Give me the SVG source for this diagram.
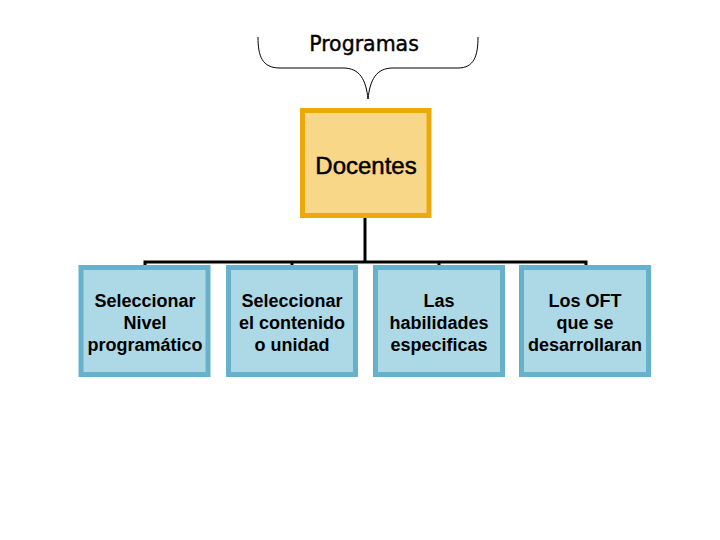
<svg xmlns="http://www.w3.org/2000/svg" width="720" height="540" viewBox="0 0 720 540">
<style>
.child rect{fill:#ADD8E6;stroke:#66B2CC;stroke-width:5}
.child text{font-family:"Liberation Sans",Arial,sans-serif;font-weight:bold;font-size:18px;fill:#000;text-anchor:middle}
.conn{stroke:#000;stroke-width:3;fill:none}
</style>
<rect width="720" height="540" fill="#fff"/>
<g id="programas">
<path d="M258,37 C258,56 262,68 280,68 L343,68 C360,68 366,80 368,99 C370,80 376,68 393,68 L458,68 C474,68 478,56 478,37" fill="none" stroke="#000" stroke-width="1"/>
<text x="364" y="51" font-family="'DejaVu Sans',Verdana,sans-serif" font-size="20.5" text-anchor="middle" fill="#000" stroke="#000" stroke-width="0.4">Programas</text>
</g>
<g id="connectors">
<path class="conn" d="M365,218 V262"/>
<path class="conn" d="M145,266 V262 H586 V266"/>
<path class="conn" d="M292,262 V266"/>
<path class="conn" d="M439,262 V266"/>
</g>
<g id="docentes">
<rect x="302.5" y="110.5" width="126.5" height="105" fill="#F8D888" stroke="#EBAA0A" stroke-width="5"/>
<text x="366" y="173.5" font-family="'Liberation Sans',Arial,sans-serif" font-size="24" text-anchor="middle" fill="#000" stroke="#000" stroke-width="0.5">Docentes</text>
</g>
<g id="n1" class="child">
<rect x="81" y="267.5" width="127" height="107"/>
<text x="145" y="306.5">Seleccionar</text>
<text x="145" y="328.5">Nivel</text>
<text x="145" y="350.5">programático</text>
</g>
<g id="n2" class="child">
<rect x="228.5" y="267.5" width="127" height="107"/>
<text x="292" y="306.5">Seleccionar</text>
<text x="292" y="328.5">el contenido</text>
<text x="292" y="350.5">o unidad</text>
</g>
<g id="n3" class="child">
<rect x="375.5" y="267.5" width="127" height="107"/>
<text x="439" y="306.5">Las</text>
<text x="439" y="328.5">habilidades</text>
<text x="439" y="350.5">especificas</text>
</g>
<g id="n4" class="child">
<rect x="521.5" y="267.5" width="127" height="107"/>
<text x="585" y="306.5">Los OFT</text>
<text x="585" y="328.5">que se</text>
<text x="585" y="350.5">desarrollaran</text>
</g>
</svg>
